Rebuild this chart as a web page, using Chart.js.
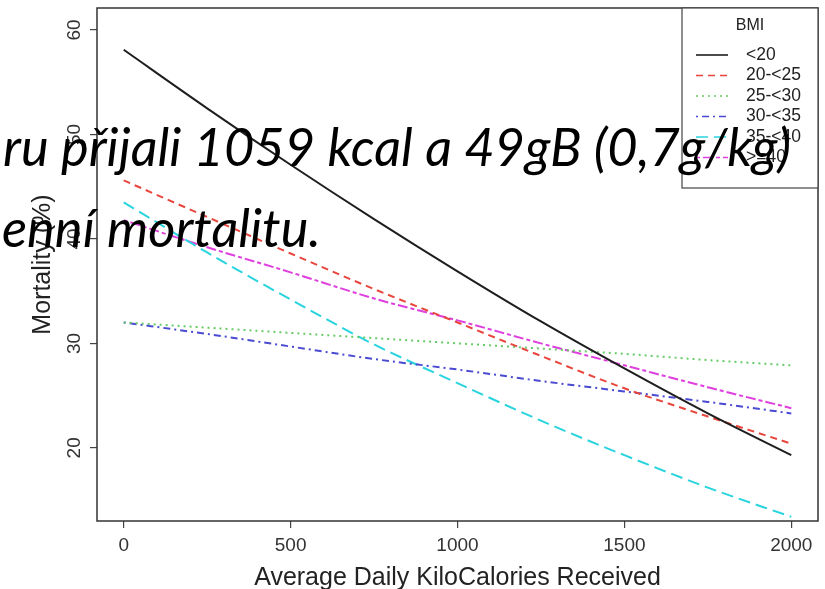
<!DOCTYPE html>
<html><head><meta charset="utf-8">
<script src="https://cdn.jsdelivr.net/npm/chart.js@4.4.1/dist/chart.umd.min.js"></script>
<style>html,body{margin:0;padding:0;background:#fff;overflow:hidden}canvas{display:block}</style>
</head><body>
<canvas id="c" width="825" height="589"></canvas>
<script>
// ---- data ----
const kcal       = [0, 250, 500, 750, 1000, 1250, 1500, 1750, 2000];
const bmiUnder20 = [58.1, 52.5, 47.1, 41.9, 36.9, 32.1, 27.6, 23.3, 19.3];
const bmi20to25  = [45.6, 42.1, 38.6, 35.2, 32.0, 28.8, 25.7, 23.0, 20.4];
const bmi25to30  = [32.0, 31.5, 31.0, 30.5, 30.0, 29.5, 29.0, 28.4, 27.9];
const bmi30to35  = [32.0, 30.9, 29.7, 28.5, 27.5, 26.4, 25.4, 24.4, 23.3];
const bmi35to40  = [43.5, 38.7, 34.2, 29.9, 26.2, 22.6, 19.3, 16.2, 13.4];
const bmi40plus  = [41.8, 39.2, 36.8, 34.3, 32.2, 30.0, 27.9, 25.8, 23.8];
const seriesLabels = ['<20', '20-<25', '25-<30', '30-<35', '35-<40', '>=40'];
const xTicks = [0, 500, 1000, 1500, 2000];
const yTicks = [20, 30, 40, 50, 60];
const legendTitle = 'BMI';
const xTitle = 'Average Daily KiloCalories Received';
const yTitle = 'Mortality (%)';
const overlayLines = ['ru přijali 1059 kcal a 49gB (0,7g/kg)', 'enní mortalitu.'];

// ---- styles ----
const seriesValues = [bmiUnder20, bmi20to25, bmi25to30, bmi30to35, bmi35to40, bmi40plus];
const seriesColors = ['#1e1e1e', '#e8453c', '#66cc66', '#4a4ad2', '#2ad4de', '#de3fde'];
const seriesDash = [[], [7, 5], [2, 4], [2, 4, 7, 4], [12, 6], [4, 3, 10, 3]];
const AXIS_FONT = 'Liberation Sans';

const datasets = seriesValues.map((vals, i) => ({
  label: seriesLabels[i],
  data: kcal.map((k, j) => ({ x: k, y: vals[j] })),
  borderColor: seriesColors[i],
  borderDash: seriesDash[i],
  borderWidth: 2,
  pointRadius: 0,
  cubicInterpolationMode: 'monotone',
  fill: false
}));

const boxPlugin = {
  id: 'box',
  afterDatasetsDraw(chart) {
    const { ctx, chartArea: a } = chart;
    ctx.save();
    ctx.strokeStyle = '#333';
    ctx.lineWidth = 1.5;
    ctx.strokeRect(a.left, a.top, a.right - a.left, a.bottom - a.top);
    ctx.restore();
  }
};

const legendPlugin = {
  id: 'rlegend',
  afterDraw(chart) {
    const { ctx, chartArea: a } = chart;
    const w = 136, h = 180;
    const left = a.right - w, top = a.top;
    ctx.save();
    ctx.fillStyle = '#fff';
    ctx.fillRect(left, top, w, h);
    ctx.strokeStyle = '#444';
    ctx.lineWidth = 1.2;
    ctx.strokeRect(left, top, w, h);
    ctx.fillStyle = '#222';
    ctx.font = '16px "' + AXIS_FONT + '"';
    ctx.textBaseline = 'middle';
    ctx.textAlign = 'center';
    ctx.fillText(legendTitle, left + w / 2, top + 18);
    ctx.font = '17.5px "' + AXIS_FONT + '"';
    ctx.textAlign = 'left';
    chart.data.datasets.forEach((ds, i) => {
      const y = top + 47 + i * 20.5;
      ctx.strokeStyle = ds.borderColor;
      ctx.lineWidth = 1.6;
      ctx.setLineDash(ds.borderDash);
      ctx.beginPath();
      ctx.moveTo(left + 14, y);
      ctx.lineTo(left + 46, y);
      ctx.stroke();
      ctx.setLineDash([]);
      ctx.fillStyle = '#222';
      ctx.fillText(ds.label, left + 64, y);
    });
    ctx.restore();
  }
};

const overlayPlugin = {
  id: 'overlay',
  afterDraw(chart) {
    const ctx = chart.ctx;
    ctx.save();
    const fam = 'Lato';
    ctx.font = 'italic 50px ' + fam;
    const wMeasured = ctx.measureText(overlayLines[0]).width;
    const size = 50 * 788 / wMeasured;
    ctx.font = 'italic ' + size.toFixed(2) + 'px ' + fam;
    ctx.fillStyle = '#000';
    ctx.textBaseline = 'alphabetic';
    ctx.textAlign = 'left';
    ctx.fillText(overlayLines[0], 3, 166);
    ctx.fillText(overlayLines[1], 2, 247);
    ctx.restore();
  }
};

new Chart(document.getElementById('c'), {
  type: 'line',
  data: { datasets },
  options: {
    responsive: false,
    animation: false,
    devicePixelRatio: 1,
    layout: { padding: { left: 0, right: 7, top: 8, bottom: 0 } },
    plugins: { legend: { display: false }, tooltip: { enabled: false } },
    scales: {
      x: {
        type: 'linear', min: -80, max: 2080,
        afterBuildTicks: s => { s.ticks = xTicks.map(v => ({ value: v })); },
        afterFit: s => { s.height = 68; s.paddingLeft = 0; s.paddingRight = 0; },
        grid: { drawOnChartArea: false, drawTicks: true, tickLength: 7, color: '#444', tickColor: '#444', lineWidth: 1.2 },
        border: { display: false },
        ticks: { font: { family: AXIS_FONT, size: 19 }, color: '#333', padding: 6, maxRotation: 0, minRotation: 0, autoSkip: false, callback: v => String(v) },
        title: { display: true, text: xTitle, font: { family: AXIS_FONT, size: 25, lineHeight: 1 }, color: '#222', padding: { top: 0, bottom: -2 } }
      },
      y: {
        type: 'linear', min: 13, max: 62.1,
        afterBuildTicks: s => { s.ticks = yTicks.map(v => ({ value: v })); },
        afterFit: s => { s.width = 97; s.paddingTop = 0; s.paddingBottom = 0; },
        grid: { drawOnChartArea: false, drawTicks: true, tickLength: 7, color: '#444', tickColor: '#444', lineWidth: 1.2 },
        border: { display: false },
        ticks: { font: { family: AXIS_FONT, size: 19 }, color: '#333', padding: 5, minRotation: 90, maxRotation: 90, crossAlign: 'center', autoSkip: false, callback: v => String(v) },
        title: { display: true, text: yTitle, font: { family: AXIS_FONT, size: 25, lineHeight: 1 }, color: '#222', padding: { top: 31, bottom: 0 } }
      }
    }
  },
  plugins: [boxPlugin, legendPlugin, overlayPlugin]
});
</script>
</body></html>
